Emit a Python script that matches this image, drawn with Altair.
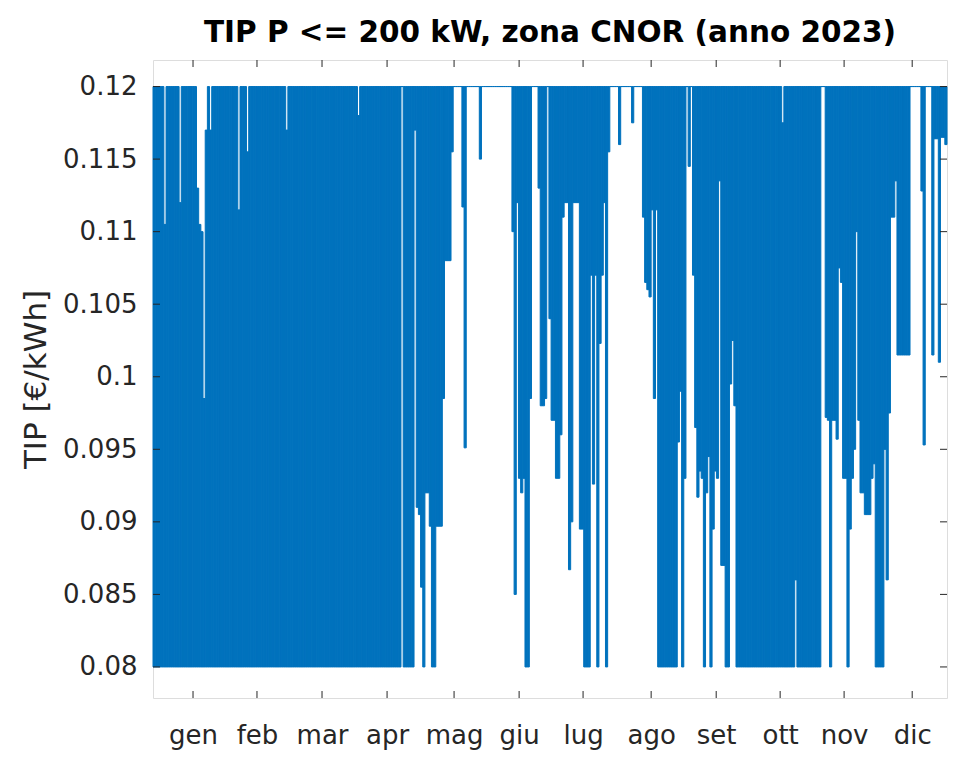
import altair as alt
import pandas as pd

BLUE = "#0072BD"
AX = "#262626"
FONT = "DejaVu Sans"

MONTHS = ["gen", "feb", "mar", "apr", "mag", "giu", "lug", "ago", "set", "ott", "nov", "dic"]
MONTH_TICKS = [18.4, 47.8, 77.7, 107.6, 138.4, 168.3, 197.7, 229.0, 258.9, 288.3, 317.7, 349.0]
Y_TICKS = [0.08, 0.085, 0.09, 0.095, 0.1, 0.105, 0.11, 0.115, 0.12]

# daily minimum of the hourly TIP [€/kWh]
MIN_GEN = [0.08, 0.08, 0.08, 0.08, 0.08, 0.08, 0.08, 0.08, 0.08, 0.08, 0.08, 0.08, 0.08, 0.08, 0.08, 0.08,
           0.08, 0.08, 0.08, 0.08, 0.08, 0.08, 0.08, 0.08, 0.08, 0.08, 0.08, 0.08, 0.08, 0.08, 0.08]
MIN_FEB = [0.08, 0.08, 0.08, 0.08, 0.08, 0.08, 0.08, 0.08, 0.08, 0.08, 0.08, 0.08, 0.08, 0.08,
           0.08, 0.08, 0.08, 0.08, 0.08, 0.08, 0.08, 0.08, 0.08, 0.08, 0.08, 0.08, 0.08, 0.08]
MIN_MAR = [0.08, 0.08, 0.08, 0.08, 0.08, 0.08, 0.08, 0.08, 0.08, 0.08, 0.08, 0.08, 0.08, 0.08, 0.08, 0.08,
           0.08, 0.08, 0.08, 0.08, 0.08, 0.08, 0.08, 0.08, 0.08, 0.08, 0.08, 0.08, 0.08, 0.08, 0.08]
MIN_APR = [0.08, 0.08, 0.08, 0.08, 0.08, 0.08, 0.08, 0.08, 0.08, 0.08, 0.08, 0.08, 0.08, 0.08, 0.08,
           0.08, 0.08, 0.08, 0.08, 0.08, 0.08, 0.08, 0.08, 0.08, 0.12, 0.08, 0.08, 0.08, 0.08, 0.08]
MIN_MAG = [0.117, 0.091, 0.0905, 0.0855, 0.08, 0.092, 0.092, 0.0897, 0.08, 0.08, 0.0897, 0.0897, 0.0897,
           0.0985, 0.108, 0.108, 0.108, 0.1155, 0.12, 0.12, 0.12, 0.12, 0.1117, 0.0951, 0.12, 0.12,
           0.12, 0.12, 0.12, 0.12, 0.115]
MIN_GIU = [0.12, 0.12, 0.12, 0.12, 0.12, 0.12, 0.12, 0.12, 0.12, 0.12, 0.12, 0.12, 0.12, 0.12,
           0.110, 0.085, 0.112, 0.093, 0.092, 0.093, 0.08, 0.08, 0.0985, 0.12, 0.12, 0.12, 0.113,
           0.098, 0.098, 0.0985]
MIN_LUG = [0.12, 0.104, 0.097, 0.097, 0.093, 0.093, 0.096, 0.111, 0.112, 0.112, 0.0867, 0.090, 0.112,
           0.112, 0.112, 0.0895, 0.0895, 0.08, 0.08, 0.08, 0.107, 0.0926, 0.107, 0.08, 0.1023, 0.107,
           0.112, 0.08, 0.1155, 0.12, 0.12]
MIN_AGO = [0.12, 0.12, 0.116, 0.12, 0.12, 0.12, 0.12, 0.12, 0.1175, 0.12, 0.12, 0.12, 0.12, 0.111,
           0.1065, 0.106, 0.1055, 0.1115, 0.0985, 0.1115, 0.08, 0.08, 0.08, 0.08, 0.08, 0.08, 0.08,
           0.08, 0.08, 0.0955, 0.099]
MIN_SET = [0.08, 0.093, 0.12, 0.1145, 0.12, 0.107, 0.0965, 0.0917, 0.0935, 0.093, 0.08, 0.092, 0.0945,
           0.08, 0.0895, 0.0935, 0.093, 0.1135, 0.087, 0.087, 0.08, 0.08, 0.0995, 0.1025, 0.098, 0.08,
           0.08, 0.08, 0.08, 0.08]
MIN_OTT = [0.08, 0.08, 0.08, 0.08, 0.08, 0.08, 0.08, 0.08, 0.08, 0.08, 0.08, 0.08, 0.08, 0.08, 0.08, 0.08,
           0.08, 0.08, 0.08, 0.08, 0.08, 0.08, 0.086, 0.08, 0.08, 0.08, 0.08, 0.08, 0.08, 0.08, 0.08]
MIN_NOV = [0.08, 0.08, 0.08, 0.12, 0.12, 0.0972, 0.097, 0.08, 0.097, 0.097, 0.0957, 0.1075, 0.1065,
           0.093, 0.093, 0.08, 0.0895, 0.093, 0.095, 0.11, 0.097, 0.092, 0.092, 0.0905, 0.0905, 0.0905,
           0.093, 0.094, 0.08, 0.08]
MIN_DIC = [0.08, 0.08, 0.095, 0.086, 0.0975, 0.111, 0.111, 0.1135, 0.1015, 0.1015, 0.1015, 0.1015,
           0.1015, 0.1015, 0.12, 0.12, 0.12, 0.12, 0.12, 0.1128, 0.0953, 0.12, 0.12, 0.12, 0.1015,
           0.1164, 0.1164, 0.101, 0.1165, 0.1165, 0.116]

# daily maximum of the hourly TIP [€/kWh]
MAX_GEN = [0.12, 0.12, 0.12, 0.12, 0.12, 0.1105, 0.12, 0.12, 0.12, 0.12, 0.12, 0.12, 0.112, 0.12, 0.12,
           0.12, 0.12, 0.12, 0.12, 0.12, 0.113, 0.1105, 0.110, 0.0985, 0.117, 0.12, 0.117, 0.12, 0.12,
           0.12, 0.12]
MAX_FEB = [0.12, 0.12, 0.12, 0.12, 0.12, 0.12, 0.12, 0.12, 0.1115, 0.12, 0.12, 0.12, 0.1155, 0.12,
           0.12, 0.12, 0.12, 0.12, 0.12, 0.12, 0.12, 0.12, 0.12, 0.12, 0.12, 0.12, 0.12, 0.12]
MAX_MAR = [0.12, 0.12, 0.117, 0.12, 0.12, 0.12, 0.12, 0.12, 0.12, 0.12, 0.12, 0.12, 0.12, 0.12, 0.12,
           0.12, 0.12, 0.12, 0.12, 0.12, 0.12, 0.12, 0.12, 0.12, 0.12, 0.12, 0.12, 0.12, 0.12, 0.12, 0.12]
MAX_APR = [0.12, 0.12, 0.12, 0.12, 0.118, 0.12, 0.12, 0.12, 0.12, 0.12, 0.12, 0.12, 0.12, 0.12, 0.12,
           0.12, 0.12, 0.12, 0.12, 0.12, 0.12, 0.12, 0.12, 0.12, 0.12, 0.12, 0.12, 0.12, 0.12, 0.12]
MAX_MAG = [0.12, 0.12, 0.12, 0.12, 0.12, 0.12, 0.12, 0.12, 0.12, 0.12, 0.12, 0.12, 0.12, 0.12, 0.12,
           0.12, 0.12, 0.12, 0.12, 0.12, 0.12, 0.12, 0.12, 0.12, 0.12, 0.12, 0.12, 0.12, 0.12, 0.12, 0.12]
MAX_GIU = [0.12, 0.12, 0.12, 0.12, 0.12, 0.12, 0.12, 0.12, 0.12, 0.12, 0.12, 0.12, 0.12, 0.12, 0.12,
           0.12, 0.12, 0.12, 0.12, 0.12, 0.12, 0.12, 0.12, 0.12, 0.12, 0.12, 0.12, 0.12, 0.12, 0.12]
MAX_LUG = [0.12, 0.12, 0.12, 0.12, 0.12, 0.12, 0.12, 0.12, 0.12, 0.12, 0.12, 0.12, 0.12, 0.12, 0.12,
           0.12, 0.12, 0.12, 0.12, 0.12, 0.12, 0.12, 0.12, 0.12, 0.12, 0.12, 0.12, 0.12, 0.12, 0.12, 0.12]
MAX_AGO = [0.12, 0.12, 0.12, 0.12, 0.12, 0.12, 0.12, 0.12, 0.12, 0.12, 0.12, 0.12, 0.12, 0.12, 0.12,
           0.12, 0.12, 0.12, 0.12, 0.12, 0.12, 0.12, 0.12, 0.12, 0.12, 0.12, 0.12, 0.12, 0.12, 0.12, 0.12]
MAX_SET = [0.12, 0.12, 0.12, 0.12, 0.12, 0.12, 0.12, 0.12, 0.12, 0.12, 0.12, 0.12, 0.12, 0.12, 0.12,
           0.12, 0.12, 0.12, 0.12, 0.12, 0.12, 0.12, 0.12, 0.12, 0.12, 0.12, 0.12, 0.12, 0.12, 0.12]
MAX_OTT = [0.12, 0.12, 0.12, 0.12, 0.12, 0.12, 0.12, 0.12, 0.12, 0.12, 0.12, 0.12, 0.12, 0.12, 0.12,
           0.12, 0.1175, 0.12, 0.12, 0.12, 0.12, 0.12, 0.12, 0.12, 0.12, 0.12, 0.12, 0.12, 0.12, 0.12, 0.12]
MAX_NOV = [0.12, 0.12, 0.12, 0.12, 0.12, 0.12, 0.12, 0.12, 0.12, 0.12, 0.12, 0.12, 0.12, 0.12, 0.12,
           0.12, 0.12, 0.12, 0.12, 0.12, 0.12, 0.12, 0.12, 0.12, 0.12, 0.12, 0.12, 0.12, 0.12, 0.12]
MAX_DIC = [0.12, 0.12, 0.12, 0.12, 0.12, 0.12, 0.12, 0.12, 0.12, 0.12, 0.12, 0.12, 0.12, 0.12, 0.12,
           0.12, 0.12, 0.12, 0.12, 0.12, 0.12, 0.12, 0.12, 0.12, 0.12, 0.12, 0.12, 0.12, 0.12, 0.12, 0.12]

lo = (MIN_GEN + MIN_FEB + MIN_MAR + MIN_APR + MIN_MAG + MIN_GIU +
      MIN_LUG + MIN_AGO + MIN_SET + MIN_OTT + MIN_NOV + MIN_DIC)
hi = (MAX_GEN + MAX_FEB + MAX_MAR + MAX_APR + MAX_MAG + MAX_GIU +
      MAX_LUG + MAX_AGO + MAX_SET + MAX_OTT + MAX_NOV + MAX_DIC)

n = len(lo)
df = pd.DataFrame({
    "x": list(range(n)),
    "x2": [i + 1 for i in range(n)],
    "lo": lo,
    "hi": [max(h, l) for h, l in zip(hi, lo)],
})

W, H = 794, 638
xscale = alt.Scale(domain=[0, n], nice=False, zero=False)
yscale = alt.Scale(domain=[0.07786, 0.12183], nice=False, zero=False)

month_arr = "[" + ",".join("'%s'" % m for m in MONTHS) + "]"
tick_arr = "[" + ",".join(repr(t) for t in MONTH_TICKS) + "]"

xaxis = alt.Axis(values=MONTH_TICKS, labelExpr=f"{month_arr}[indexof({tick_arr}, datum.value)]",
                 title=None, ticks=False, domain=False, grid=False, labelFont=FONT,
                 labelFontSize=26, labelColor=AX, labelPadding=24, labelOverlap=False,
                 labelFlush=False)
yaxis = alt.Axis(values=Y_TICKS, format=".3~g", title="TIP [€/kWh]", ticks=False, domain=False,
                 grid=False, labelFont=FONT, labelFontSize=26, labelColor=AX, labelPadding=16,
                 titleFont=FONT, titleFontSize=31, titleFontWeight="normal", titleColor=AX,
                 titlePadding=10)

bars = alt.Chart(df).mark_rect(color=BLUE, stroke=BLUE, strokeWidth=1.0).encode(
    x=alt.X("x:Q", scale=xscale, axis=xaxis),
    x2="x2:Q",
    y=alt.Y("lo:Q", scale=yscale, axis=yaxis),
    y2="hi:Q",
)

ydf = pd.DataFrame({"lo": Y_TICKS})
xdf = pd.DataFrame({"x": MONTH_TICKS})
TL = 7
yt_left = alt.Chart(ydf).mark_rule(color=AX, strokeWidth=1).encode(
    y=alt.Y("lo:Q", scale=yscale, axis=yaxis), x=alt.value(0), x2=alt.value(TL))
yt_right = alt.Chart(ydf).mark_rule(color=AX, strokeWidth=1).encode(
    y=alt.Y("lo:Q", scale=yscale, axis=yaxis), x=alt.value(W - TL), x2=alt.value(W))
xt_bottom = alt.Chart(xdf).mark_rule(color=AX, strokeWidth=1).encode(
    x=alt.X("x:Q", scale=xscale, axis=xaxis), y=alt.value(H - TL), y2=alt.value(H))
xt_top = alt.Chart(xdf).mark_rule(color=AX, strokeWidth=1).encode(
    x=alt.X("x:Q", scale=xscale, axis=xaxis), y=alt.value(0), y2=alt.value(TL))

chart = alt.layer(bars, yt_left, yt_right, xt_bottom, xt_top).properties(
    width=W,
    height=H,
    title=alt.TitleParams("TIP P <= 200 kW, zona CNOR (anno 2023)", font=FONT, fontSize=29.5,
                          fontWeight="bold", color="#000000", anchor="middle", offset=11),
    padding={"left": 145, "top": 52, "right": 5, "bottom": 55},
    autosize=alt.AutoSizeParams(type="none"),
).configure_view(stroke=AX, strokeWidth=1).configure(background="white")

chart.save("out.html", embed_options={"renderer": "svg", "actions": False})
